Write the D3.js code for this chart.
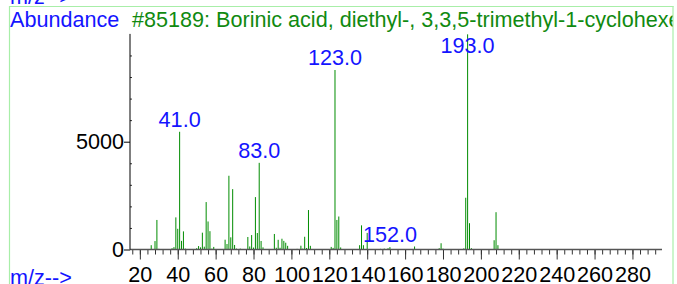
<!DOCTYPE html>
<html>
<head>
<meta charset="utf-8">
<script src="https://cdn.jsdelivr.net/npm/d3@7"></script>
<style>
  html, body { margin: 0; padding: 0; background: #ffffff; }
  svg { display: block; font-family: "Liberation Sans", Arial, sans-serif; }
</style>
</head>
<body>
<svg id="chart" width="677" height="284"></svg>
<script>
// ---- data ----
const mzValues = [26, 28, 29, 30, 37, 38, 39, 40, 41, 42, 43, 44,
  50, 51, 52, 53, 54, 55, 56, 57, 58, 59,
  65, 66, 67, 68, 69, 70, 71, 73,
  77, 78, 79, 80, 81, 82, 83, 84, 85,
  91, 92, 93, 94, 95, 96, 97, 98,
  103, 105, 106, 107, 108, 109, 110,
  121, 122, 123, 124, 125, 126,
  136, 137, 138, 140, 147, 149, 151, 152, 165,
  178, 179, 180, 191, 192, 193, 194, 195,
  207, 208, 209];
const abundances = [200, 390, 1370, 30, 60, 110, 1490, 960, 5460, 400, 840, 40,
  60, 160, 100, 780, 130, 2200, 1300, 850, 40, 120,
  455, 255, 3420, 565, 2800, 210, 40, 40,
  580, 140, 670, 90, 2430, 765, 4020, 395, 100,
  720, 80, 450, 80, 500, 400, 315, 170,
  30, 176, 40, 590, 70, 1830, 170,
  120, 75, 8325, 1370, 1530, 95,
  200, 1120, 200, 770, 30, 40, 60, 110, 140,
  60, 290, 40, 50, 2400, 9980, 1220, 60,
  430, 1730, 200];
const peakLabels = [41, 83, 123, 152, 193];
const xMajorTicks = [20, 40, 60, 80, 100, 120, 140, 160, 180, 200, 220, 240, 260, 280];
const xMinorTicks = d3.range(16, 296, 4);
const yMajorTicks = [0, 5000];
const yMinorTicks = [1000, 2000, 3000, 4000, 6000, 7000, 8000, 9000];
const titleText = "#85189: Borinic acid, diethyl-, 3,3,5-trimethyl-1-cyclohexen-1-yl ester";

// ---- layout ----
const svg = d3.select("#chart");
const x = d3.scaleLinear().domain([14.8, 295.6]).range([130, 662]);
const y = d3.scaleLinear().domain([0, 10000]).range([249.5, 33.9]);
const BLUE = "#1414ff";
const GREEN_TXT = "#108a10";
const BAR = "#008c00";
const FS = 21.6;

// frame (light green)
const frame = svg.append("g").attr("stroke", "#a8eea8").attr("stroke-width", 1.2);
frame.append("line").attr("x1", 9.5).attr("x2", 673.5).attr("y1", 6.5).attr("y2", 6.5);
frame.append("line").attr("x1", 9.5).attr("x2", 9.5).attr("y1", 6).attr("y2", 284);
frame.append("line").attr("x1", 673).attr("x2", 673).attr("y1", 6).attr("y2", 284);

svg.append("defs").append("clipPath").attr("id", "clipR")
  .append("rect").attr("x", 0).attr("y", 0).attr("width", 672.5).attr("height", 284);

// text from the panel above (cut by the top of the window)
svg.append("text").attr("x", 10).attr("y", 4).attr("fill", BLUE)
  .attr("font-size", FS).text("m/z-->");

// header
svg.append("text").attr("x", 10).attr("y", 27).attr("fill", BLUE)
  .attr("font-size", FS).text("Abundance");
svg.append("text").attr("x", 132).attr("y", 27).attr("fill", GREEN_TXT)
  .attr("font-size", FS).attr("clip-path", "url(#clipR)").text(titleText);

// bottom label
svg.append("text").attr("x", 10).attr("y", 285).attr("fill", BLUE)
  .attr("font-size", FS).text("m/z-->");

// bars
const data = mzValues.map((m, i) => ({ m, v: abundances[i] }));
svg.append("g").selectAll("line").data(data).join("line")
  .attr("x1", d => x(d.m)).attr("x2", d => x(d.m))
  .attr("y1", y(0)).attr("y2", d => y(d.v))
  .attr("stroke", BAR).attr("stroke-width", 1);

// x axis
const gx = svg.append("g").attr("transform", `translate(0,${y(0)})`);
gx.append("g").call(d3.axisBottom(x).tickValues(xMinorTicks).tickSize(5).tickFormat(""))
  .call(g => g.select(".domain").remove())
  .selectAll("line").attr("stroke", "#333");
gx.append("g").call(d3.axisBottom(x).tickValues(xMajorTicks).tickSize(10).tickPadding(7).tickFormat(d3.format("d")))
  .call(g => g.select(".domain").remove())
  .call(g => g.selectAll("line").attr("stroke", "#333"))
  .call(g => g.selectAll("text").attr("font-size", FS).attr("fill", "#000")
    .attr("font-family", "Liberation Sans, Arial, sans-serif"));
gx.append("line").attr("x1", x.range()[0]).attr("x2", x.range()[1])
  .attr("stroke", "#555").attr("stroke-width", 1.3);

// y axis
const gy = svg.append("g").attr("transform", "translate(130,0)");
gy.append("g").call(d3.axisRight(y).tickValues(yMinorTicks).tickSize(2).tickFormat(""))
  .call(g => g.select(".domain").remove())
  .selectAll("line").attr("stroke", "#333");
gy.append("g").call(d3.axisLeft(y).tickValues(yMajorTicks).tickSize(6).tickPadding(0).tickFormat(d3.format("d")))
  .call(g => g.select(".domain").remove())
  .call(g => g.selectAll("line").attr("stroke", "#000"))
  .call(g => g.selectAll("text").attr("font-size", FS).attr("fill", "#000")
    .attr("font-family", "Liberation Sans, Arial, sans-serif"));
gy.append("line").attr("y1", y.range()[0]).attr("y2", y.range()[1])
  .attr("stroke", "#000").attr("stroke-width", 1);

// peak labels
const labelData = peakLabels.map(m => data.find(d => d.m === m));
svg.append("g").selectAll("text").data(labelData).join("text")
  .attr("x", d => x(d.m))
  .attr("y", d => Math.max(y(d.v) - 5, 53))
  .attr("text-anchor", "middle").attr("fill", BLUE).attr("font-size", FS)
  .text(d => d3.format(".1f")(d.m));
</script>
</body>
</html>
